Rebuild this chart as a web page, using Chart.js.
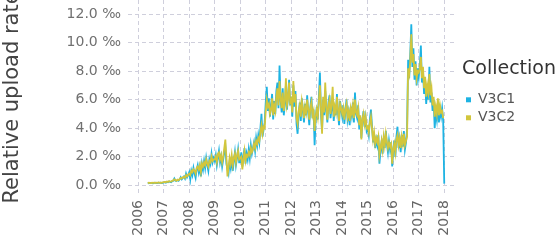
<!DOCTYPE html>
<html>
<head>
<meta charset="utf-8">
<script src="https://cdn.jsdelivr.net/npm/chart.js@4.4.1/dist/chart.umd.min.js"></script>
<style>
  html, body { margin: 0; padding: 0; background: #ffffff; }
  #wrap { width: 559px; height: 240px; }
</style>
</head>
<body>
<div id="wrap"><canvas id="c" width="559" height="240"></canvas></div>
<script>
// Semi-monthly samples starting at 2006.375 (decimal year), step 1/24 year
const startYear = 2006.375;
const stepYear = 1 / 24;

const seriesNames = ['V3C1', 'V3C2'];

const v3c1 = [
  // 2006 (from 2006.375)
  0.12,0.14,0.13,0.15,0.14,0.12,0.15,0.16,0.14,0.13,0.16,0.15,0.17,0.14,0.16,
  // 2007
  0.18,0.2,0.17,0.22,0.2,0.25,0.22,0.2,0.28,0.3,0.45,0.3,0.28,0.35,0.3,0.4,0.55,0.4,0.5,0.6,0.45,0.8,0.55,0.7,
  // 2008
  0.9,0.4,1.0,0.7,1.2,0.8,0.5,1.1,1.4,0.9,1.3,0.6,1.5,1.1,1.7,1.2,1.9,1.4,1.0,1.8,1.5,2.2,1.6,1.9,
  // 2009
  1.7,2.1,1.4,1.9,2.4,1.6,2.0,1.3,1.8,2.3,2.7,1.5,1.1,0.8,1.6,1.2,2.0,1.0,1.7,2.3,1.4,1.9,2.5,1.6,
  // 2010
  1.6,2.3,1.3,2.0,2.6,1.5,2.2,1.8,2.5,1.9,2.8,2.2,2.6,3.0,2.4,3.3,2.8,3.5,3.0,4.0,5.0,3.4,3.9,4.4,
  // 2011
  5.8,6.9,5.2,6.1,4.8,5.6,6.4,4.6,5.9,5.0,6.6,7.2,5.4,8.4,6.0,5.1,6.8,4.9,5.7,7.0,5.3,6.2,7.4,5.6,
  // 2012
  6.2,4.8,7.0,5.5,6.6,4.3,3.6,5.0,5.8,4.5,6.1,5.2,4.4,5.7,4.9,6.3,5.1,4.2,5.5,6.2,4.7,5.3,2.8,4.6,
  // 2013
  5.5,4.6,6.2,7.9,5.0,3.8,6.0,4.9,6.6,5.2,4.4,5.8,6.3,4.7,5.4,6.0,4.5,5.6,4.9,6.4,5.1,4.2,5.9,5.3,
  // 2014
  4.8,5.6,4.3,5.2,6.0,4.6,5.1,4.2,5.5,4.9,5.8,4.4,6.5,5.0,4.7,5.6,3.9,4.8,3.3,4.5,5.2,4.1,4.7,3.8,
  // 2015
  4.0,3.5,4.6,5.3,4.2,3.0,3.6,2.6,3.2,2.8,3.5,1.5,2.4,3.0,2.2,3.3,2.6,3.8,2.9,2.3,3.1,2.5,3.0,1.3,
  // 2016
  2.4,3.1,2.0,3.4,4.1,2.6,3.2,2.3,3.5,2.7,3.8,2.5,3.0,3.9,8.8,7.5,9.2,11.3,8.3,9.6,7.4,8.7,7.0,8.2,
  // 2017
  7.6,8.4,9.8,7.2,8.0,6.4,7.3,5.7,6.6,6.0,8.3,5.8,6.5,5.2,6.0,4.0,5.1,4.6,5.8,4.4,5.3,4.8,5.4,4.5,
  // 2018.0
  0.1
];

const v3c2 = [
  // 2006 (from 2006.375)
  0.14,0.16,0.15,0.14,0.16,0.15,0.17,0.15,0.16,0.15,0.18,0.16,0.17,0.16,0.18,
  // 2007
  0.2,0.22,0.2,0.25,0.22,0.27,0.25,0.24,0.3,0.32,0.4,0.35,0.3,0.38,0.34,0.42,0.5,0.45,0.55,0.58,0.5,0.7,0.6,0.72,
  // 2008
  0.8,0.7,1.0,0.9,1.1,1.0,0.8,1.2,1.3,1.1,1.4,0.9,1.5,1.3,1.6,1.4,1.8,1.5,1.3,1.7,1.6,2.0,1.7,1.8,
  // 2009
  1.8,2.0,1.6,2.2,2.3,1.8,2.1,1.6,2.0,2.6,3.2,1.9,0.6,1.2,1.9,1.5,2.1,1.4,1.9,2.2,1.6,2.1,2.4,1.8,
  // 2010
  1.9,2.0,1.1,1.8,2.4,1.7,2.1,2.0,2.3,2.1,2.6,2.3,2.5,2.9,2.6,3.1,2.9,3.3,3.1,3.7,4.2,3.6,4.1,4.0,
  // 2011
  5.2,6.0,5.5,5.7,5.0,5.3,6.1,4.9,5.6,5.2,6.2,6.8,5.6,7.3,6.1,5.4,6.5,5.2,5.9,7.5,5.6,6.0,7.2,5.8,
  // 2012
  6.0,5.1,7.3,5.8,6.4,4.7,4.3,5.2,5.6,4.8,5.9,5.4,4.7,5.5,5.1,6.0,5.3,4.6,5.4,5.8,4.9,5.2,3.8,4.8,
  // 2013
  5.3,4.8,5.9,7.0,5.4,3.6,6.2,5.1,7.2,5.5,4.6,5.6,6.0,5.0,5.7,6.9,4.8,5.5,5.1,6.2,5.3,4.5,5.7,5.4,
  // 2014
  5.0,5.4,4.6,5.3,5.7,4.8,5.2,4.5,5.4,5.0,5.6,4.7,6.0,5.1,4.9,5.4,4.2,4.9,3.2,4.6,5.0,4.3,4.8,4.0,
  // 2015
  4.1,3.7,4.4,4.8,4.0,3.2,3.7,2.9,3.3,3.0,3.4,2.1,2.6,3.1,2.5,3.4,2.8,3.6,3.0,2.6,3.0,2.7,2.9,1.5,
  // 2016
  2.5,2.9,2.3,3.2,3.5,2.8,3.3,2.6,3.4,2.9,3.6,2.8,3.1,3.4,8.2,7.8,8.7,10.6,8.6,9.2,7.7,8.5,7.5,8.0,
  // 2017
  7.9,8.2,9.0,7.5,8.3,6.8,7.6,6.2,7.0,6.5,7.8,6.3,6.8,5.6,6.2,4.8,5.5,5.0,6.1,4.9,5.6,5.1,5.2,4.7
];

const yearTicks = [2006,2007,2008,2009,2010,2011,2012,2013,2014,2015,2016,2017,2018];
const rateTicks = [0,2,4,6,8,10,12];

const colors = ['#1db3e3', '#d2c63c'];

function toPoints(vals) {
  return vals.map((v, i) => ({ x: startYear + i * stepYear, y: v }));
}

const FONT = '"DejaVu Sans", Verdana, sans-serif';
const GRID = '#cfcfdc';

// Give the right-hand legend a fixed width and a small gap from the plot
const legendSizer = {
  id: 'legendSizer',
  beforeLayout(chart) {
    const lg = chart.legend;
    if (lg && !lg._sized) {
      const f = lg.fit;
      lg.fit = function () { f.call(this); this.width = 102; };
      lg._sized = true;
    }
  },
  afterLayout(chart) {
    const lg = chart.legend;
    if (lg) { lg.left += 5; lg.right += 5; }
  }
};

new Chart(document.getElementById('c'), {
  type: 'line',
  data: {
    datasets: [
      { label: seriesNames[0], data: toPoints(v3c1), borderColor: colors[0], backgroundColor: colors[0],
        borderWidth: 1.8, pointRadius: 0, tension: 0, order: 1 },
      { label: seriesNames[1], data: toPoints(v3c2), borderColor: colors[1], backgroundColor: colors[1],
        borderWidth: 1.8, pointRadius: 0, tension: 0, order: 0 }
    ]
  },
  plugins: [legendSizer],
  options: {
    responsive: false,
    animation: false,
    layout: { padding: 0 },
    plugins: {
      tooltip: { enabled: false },
      legend: {
        position: 'right',
        align: 'start',
        title: {
          display: true,
          text: 'Collection',
          color: '#333333',
          font: { family: FONT, size: 19 },
          padding: { top: 60, bottom: 6 },
          position: 'start'
        },
        labels: {
          color: '#555555',
          font: { family: FONT, size: 14 },
          usePointStyle: true,
          pointStyle: 'rect',
          boxWidth: 5,
          boxHeight: 5,
          padding: 4,
          sort: (a, b) => a.datasetIndex - b.datasetIndex,
          generateLabels: (chart) => {
            const items = Chart.defaults.plugins.legend.labels.generateLabels(chart);
            return items.map(it => Object.assign(it, { lineWidth: 0, pointStyle: 'rect' }));
          }
        }
      }
    },
    scales: {
      x: {
        type: 'linear',
        min: 2005.6,
        max: 2018.5,
        afterFit: (s) => { s.height = 45; s.paddingLeft = 0; s.paddingRight = 0; },
        afterBuildTicks: (s) => { s.ticks = yearTicks.map(v => ({ value: v })); },
        border: { display: false, dash: [4, 3] },
        grid: { color: GRID, lineWidth: 1, drawTicks: false },
        ticks: {
          color: '#666666',
          font: { family: FONT, size: 14 },
          minRotation: 90, maxRotation: 90,
          padding: 5,
          autoSkip: false,
          callback: (v) => String(v)
        }
      },
      y: {
        type: 'linear',
        min: -0.7,
        max: 13.0,
        afterFit: (s) => { s.width = 128; s.paddingTop = 0; s.paddingBottom = 0; },
        afterBuildTicks: (s) => { s.ticks = rateTicks.map(v => ({ value: v })); },
        border: { display: false, dash: [4, 3] },
        grid: { color: GRID, lineWidth: 1, drawTicks: false },
        title: {
          display: true,
          text: 'Relative upload rate',
          color: '#444444',
          font: { family: FONT, size: 21 },
          padding: { top: 0, bottom: 0 }
        },
        ticks: {
          color: '#707070',
          font: { family: FONT, size: 14 },
          padding: 7,
          callback: (v) => v.toFixed(1) + ' \u2030'
        }
      }
    }
  }
});
</script>
</body>
</html>
